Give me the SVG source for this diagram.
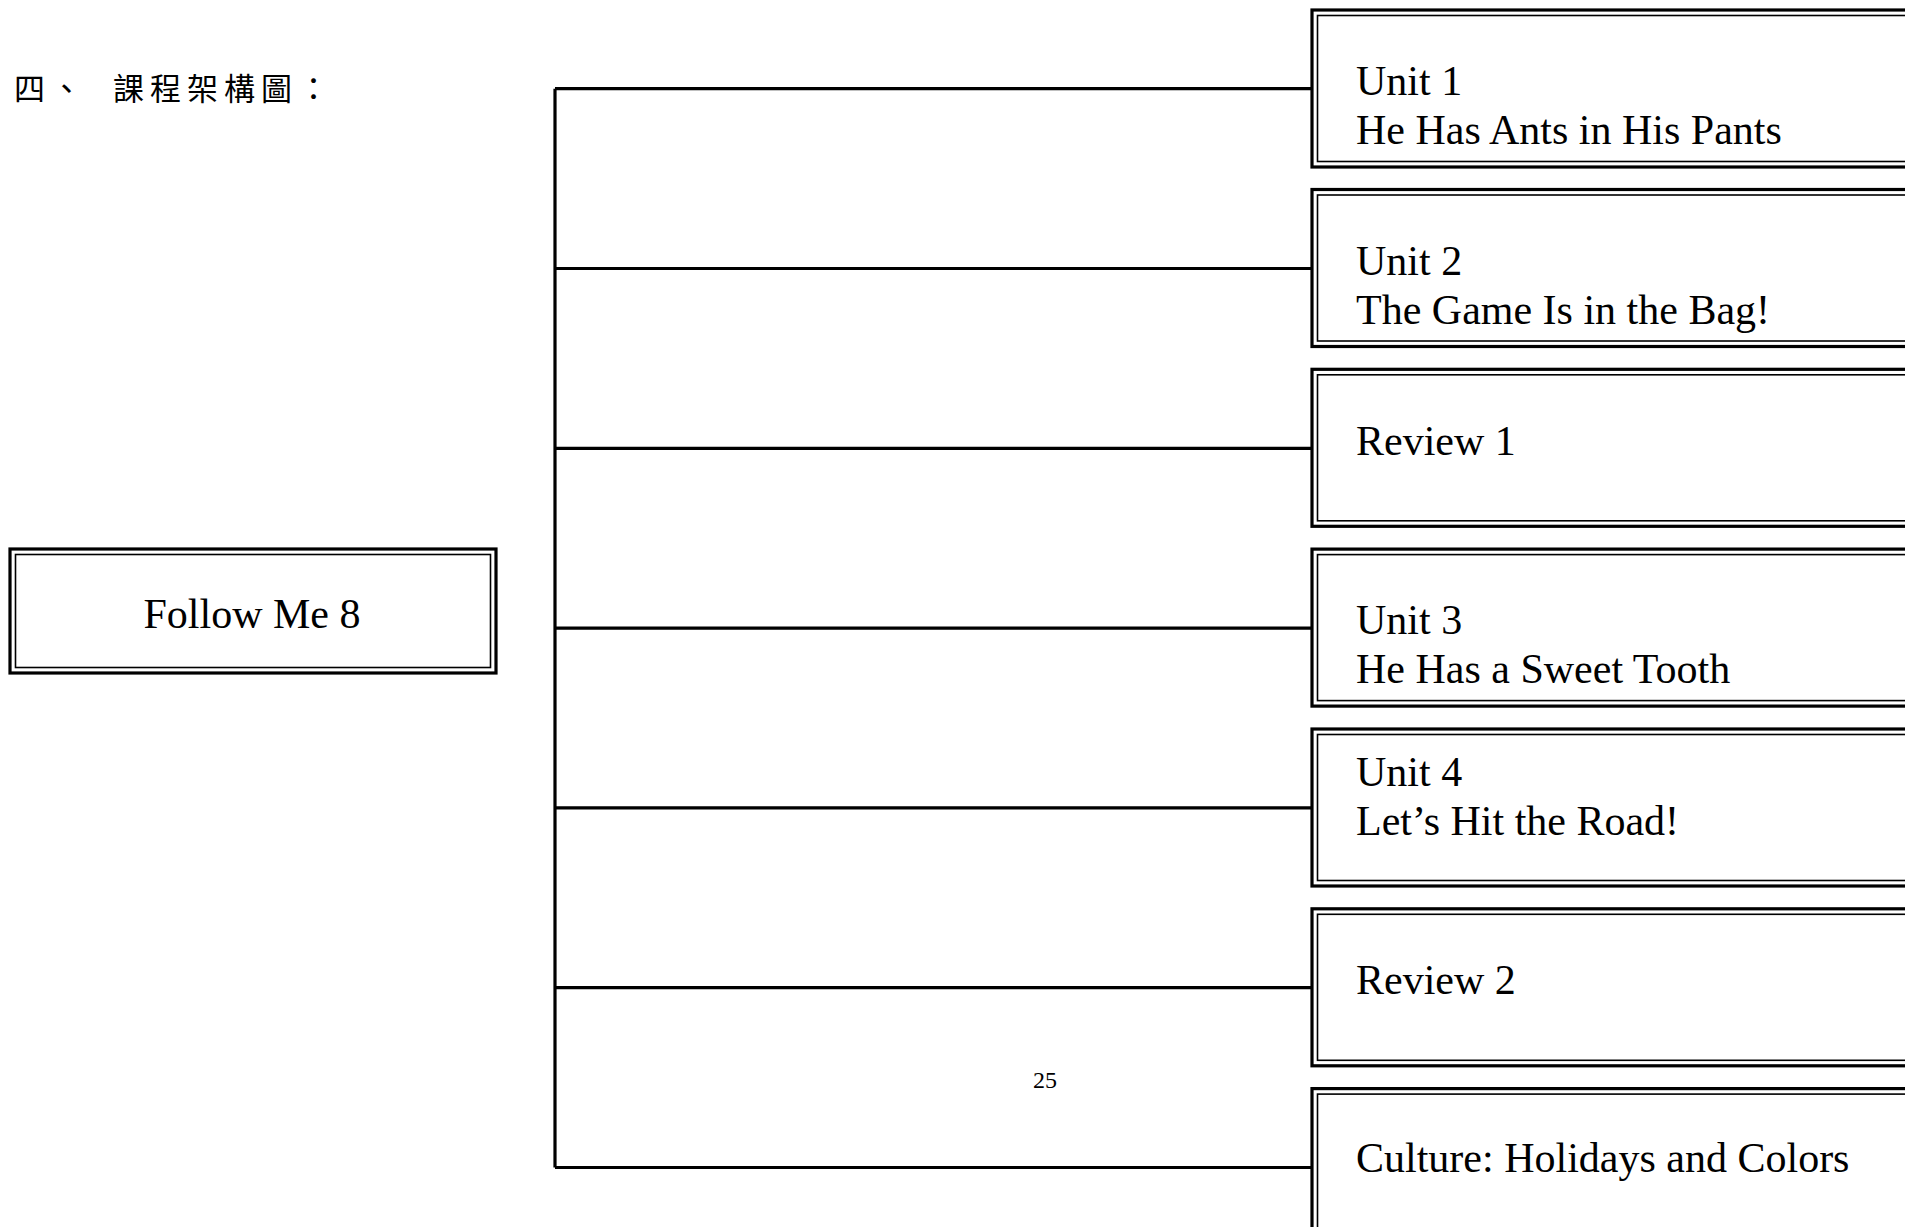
<svg xmlns="http://www.w3.org/2000/svg" width="1905" height="1227" viewBox="0 0 1905 1227">
<style>
.o{fill:#fff;stroke:#000;stroke-width:3.2}
.i{fill:none;stroke:#000;stroke-width:1.6}
.t{font-family:"Liberation Serif","Times New Roman",serif;font-size:42px;fill:#000}
.pg{font-family:"Liberation Serif","Times New Roman",serif;font-size:24px;fill:#000}
.c{stroke:#000;stroke-width:3.2;fill:none}
.cjk{font-family:"Noto Sans CJK TC","Noto Sans CJK SC",sans-serif;font-size:31px;fill:#000;letter-spacing:6px}
</style>
<rect width="1905" height="1227" fill="#fff"/>
<text class="cjk" x="14" y="100">四、</text>
<text class="cjk" x="113" y="100">課程架構圖：</text>
<g id="connectors">
<path class="c" d="M555 88.7V1167.5"/>
<path class="c" d="M555 88.7H1312M555 268.5H1312M555 448.3H1312M555 628.1H1312M555 807.9H1312M555 987.7H1312M555 1167.5H1312"/>
</g>
<g id="root">
<rect class="o" x="10" y="549" width="486" height="124"/>
<rect class="i" x="15.5" y="554.5" width="475" height="113"/>
<text class="t" x="252" y="628" text-anchor="middle">Follow Me 8</text>
</g>
<g id="unit1">
<rect class="o" x="1312" y="10" width="650" height="157"/>
<rect class="i" x="1317.5" y="15.5" width="640" height="146"/>
<text class="t" x="1356" y="95">Unit 1</text>
<text class="t" x="1356" y="144">He Has Ants in His Pants</text>
</g>
<g id="unit2">
<rect class="o" x="1312" y="189.5" width="650" height="157"/>
<rect class="i" x="1317.5" y="195" width="640" height="146"/>
<text class="t" x="1356" y="275">Unit 2</text>
<text class="t" x="1356" y="324">The Game Is in the Bag!</text>
</g>
<g id="review1">
<rect class="o" x="1312" y="369.3" width="650" height="157"/>
<rect class="i" x="1317.5" y="374.8" width="640" height="146"/>
<text class="t" x="1356" y="455">Review 1</text>
</g>
<g id="unit3">
<rect class="o" x="1312" y="549.1" width="650" height="157"/>
<rect class="i" x="1317.5" y="554.6" width="640" height="146"/>
<text class="t" x="1356" y="634">Unit 3</text>
<text class="t" x="1356" y="683">He Has a Sweet Tooth</text>
</g>
<g id="unit4">
<rect class="o" x="1312" y="729" width="650" height="157"/>
<rect class="i" x="1317.5" y="734.5" width="640" height="146"/>
<text class="t" x="1356" y="786">Unit 4</text>
<text class="t" x="1356" y="835">Let’s Hit the Road!</text>
</g>
<g id="review2">
<rect class="o" x="1312" y="908.8" width="650" height="157"/>
<rect class="i" x="1317.5" y="914.3" width="640" height="146"/>
<text class="t" x="1356" y="994">Review 2</text>
</g>
<g id="culture">
<rect class="o" x="1312" y="1088.6" width="650" height="157"/>
<rect class="i" x="1317.5" y="1094.1" width="640" height="146"/>
<text class="t" x="1356" y="1172">Culture: Holidays and Colors</text>
</g>
<text class="pg" x="1045" y="1088" text-anchor="middle">25</text>
</svg>
